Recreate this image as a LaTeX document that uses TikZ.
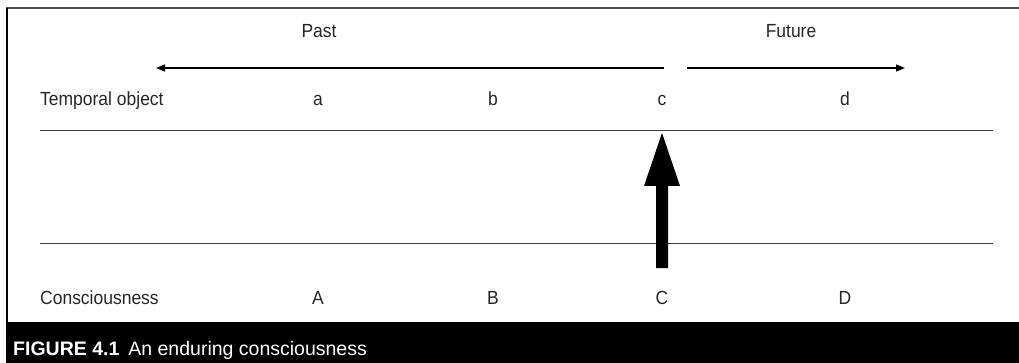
\documentclass[tikz,border=0pt]{standalone}
\usepackage{fontspec}
\setmainfont{Liberation Sans}[FakeStretch=0.92]
\newfontfamily\capfont{Liberation Sans}
\usetikzlibrary{arrows.meta}
\begin{document}
\begin{tikzpicture}[x=1pt,y=-1pt,
  lbl/.style={font=\fontsize{19}{22}\selectfont, text=black!85, inner sep=0pt, anchor=base},
  rule/.style={draw=black!75, line width=1pt},
  timearrow/.style={draw=black, line width=1.3pt, -{Triangle[length=9pt,width=7pt]}}]
\useasboundingbox (0,0) rectangle (1019,363);
% frame
\draw[draw=black!70, line width=2pt] (6,8) -- (1019,8);
\draw[draw=black, line width=1.5pt] (7,8) -- (7,322);
\fill[black] (6,322) rectangle (1019,363);
% labels
\node[lbl] (past) at (319,38) {Past};
\node[lbl] (future) at (791,38) {Future};
\node[lbl, anchor=base west] (tobj) at (40,106) {Temporal object};
\node[lbl] (a) at (318,106) {a};
\node[lbl] (b) at (493,106) {b};
\node[lbl] (c) at (662,106) {c};
\node[lbl] (d) at (845,106) {d};
\node[lbl, anchor=base west] (cons) at (40,304) {Consciousness};
\node[lbl] (A) at (318,304) {A};
\node[lbl] (B) at (493,304) {B};
\node[lbl] (C) at (662,304) {C};
\node[lbl] (D) at (845,304) {D};
% time arrows
\coordinate (now1) at (664,68);
\coordinate (pastend) at (156,68);
\coordinate (now2) at (687,68);
\coordinate (futend) at (905,68);
\draw[timearrow] (now1) -- (pastend);
\draw[timearrow] (now2) -- (futend);
% rules
\coordinate (r1a) at (40,131); \coordinate (r1b) at (993,131);
\coordinate (r2a) at (40,244); \coordinate (r2b) at (993,244);
\draw[rule] (r1a) -- (r1b);
\draw[rule] (r2a) -- (r2b);
% big arrow
\fill[black] (656,268) -- (656,186) -- (644,186) -- (662,133) -- (680,186) -- (668,186) -- (668,268) -- cycle;
% caption
\node[anchor=base west, text=white, inner sep=0pt, font=\capfont\fontsize{19.5}{22}\selectfont] (cap) at (13,355) {\textbf{FIGURE 4.1}\hspace{9pt}An enduring consciousness};
\end{tikzpicture}
\end{document}
